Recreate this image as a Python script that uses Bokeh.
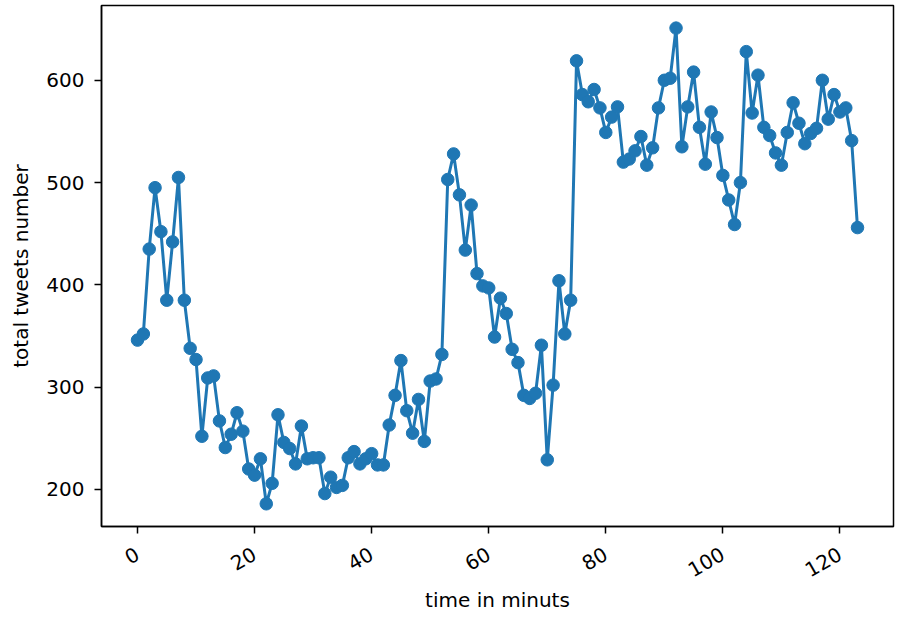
import math
from bokeh.plotting import figure
from bokeh.models import FixedTicker
from bokeh.embed import file_html
from bokeh.resources import INLINE

tweets = [346, 352, 435, 495, 452, 385, 442, 505, 385, 338,
          327, 252, 309, 311, 267, 241, 254, 275, 257, 220,
          214, 230, 186, 206, 273, 246, 240, 225, 262, 230,
          231, 231, 196, 212, 202, 204, 231, 237, 225, 230,
          235, 224, 224, 263, 292, 326, 277, 255, 288, 247,
          306, 308, 332, 503, 528, 488, 434, 478, 411, 399,
          397, 349, 387, 372, 337, 324, 292, 289, 294, 341,
          229, 302, 404, 352, 385, 619, 586, 579, 591, 573,
          549, 564, 574, 520, 523, 531, 545, 517, 534, 573,
          600, 602, 651, 535, 574, 608, 554, 518, 569, 544,
          507, 483, 459, 500, 628, 568, 605, 554, 546, 529,
          517, 549, 578, 558, 538, 548, 553, 600, 562, 586,
          569, 573, 541, 456]
minutes = list(range(len(tweets)))

x_ticks = [0, 20, 40, 60, 80, 100, 120]
y_ticks = [200, 300, 400, 500, 600]

color = "#1f77b4"
font = "DejaVu Sans"

p = figure(width=896, height=614,
           x_range=(-6.15, 129.15), y_range=(163.8, 673.1),
           output_backend="svg", toolbar_location=None,
           min_border_left=101, min_border_right=3,
           min_border_top=5, min_border_bottom=88)

p.line(minutes, tweets, line_color=color, line_width=3)
p.scatter(minutes, tweets, size=12.5, fill_color=color, line_color=color)

p.grid.visible = False
p.outline_line_color = "black"
p.outline_line_width = 1.5
p.background_fill_color = "white"
p.border_fill_color = "white"

for ax in (p.xaxis, p.yaxis):
    ax.axis_line_color = "black"
    ax.axis_line_width = 1.5
    ax.major_tick_out = 7
    ax.major_tick_in = 0
    ax.major_tick_line_width = 1.5
    ax.minor_tick_line_color = None
    ax.major_label_text_font = font
    ax.major_label_text_font_size = "20px"
    ax.major_label_text_color = "black"
    ax.axis_label_text_font = font
    ax.axis_label_text_font_size = "20px"
    ax.axis_label_text_font_style = "normal"
    ax.axis_label_text_color = "black"

p.xaxis.ticker = FixedTicker(ticks=x_ticks)
p.yaxis.ticker = FixedTicker(ticks=y_ticks)
p.xaxis.major_label_orientation = math.pi / 6
p.xaxis.major_label_standoff = 19
p.xaxis.axis_label_standoff = 1
p.yaxis.major_label_standoff = 10
p.yaxis.axis_label_standoff = 10

p.xaxis.axis_label = "time in minuts"
p.yaxis.axis_label = "total tweets number"

open("out.html", "w").write(file_html(p, INLINE))
